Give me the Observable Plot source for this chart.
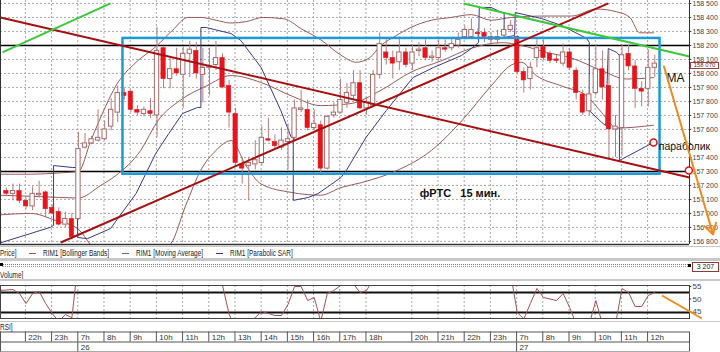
<!DOCTYPE html>
<html><head><meta charset="utf-8">
<script src="https://cdn.jsdelivr.net/npm/d3@7"></script>
<script src="https://cdn.jsdelivr.net/npm/@observablehq/plot@0.6"></script>
<style>
body{margin:0;background:#fff;width:720px;height:352px;overflow:hidden;position:relative;font-family:"Liberation Sans",Arial,sans-serif;color:#222}
.abs{position:absolute}
.lgi{position:absolute;top:0;font-size:8.5px;white-space:pre;line-height:10px;color:#222;transform:scaleX(0.76);transform-origin:left center}
.sw{position:absolute;top:5px;width:7px;height:0;border-top:1px solid #9a5a5a}
</style></head><body>
<div id="main" class="abs" style="left:0;top:0"></div>
<div class="abs" style="left:0;top:246px;width:720px;height:1px;background:#c8c8c8"></div>
<div class="abs" style="left:0;top:248px;width:720px;height:10px">
  <span class="lgi" style="left:0">Price]</span>
  <span class="sw" style="left:29px"></span><span class="lgi" style="left:43px">RIM1 [Bollinger Bands]</span>
  <span class="sw" style="left:122px"></span><span class="lgi" style="left:136px">RIM1 [Moving Average]</span>
  <span class="sw" style="left:216px;border-color:#3a3a8a"></span><span class="lgi" style="left:230px">RIM1 [Parabolic SAR]</span>
</div>
<div class="abs" style="left:0;top:258px;width:720px;height:3px;background:#c8c8c8"></div>
<div class="abs" style="left:2px;top:264px;width:688px;height:1px;border-top:1px dotted #777"></div>
<div class="abs" style="left:2px;top:266px;width:688px;height:1px;border-top:1px dotted #999"></div>
<div class="abs" style="left:0;top:263px;width:3px;height:3px;background:#000"></div>
<div class="abs" style="left:688px;top:264px;width:3px;height:3px;background:#000"></div>
<div class="abs" style="left:692px;top:262px;width:25px;height:8px;border:1px solid #8b3a3a;text-align:center;font-size:7px;line-height:8px;white-space:pre">3 207</div>
<div class="abs" style="left:0;top:270px;width:60px;height:10px"><span class="lgi" style="left:0">Volume]</span></div>
<div class="abs" style="left:0;top:279px;width:720px;height:2px;background:#c8c8c8"></div>
<div id="rsi" class="abs" style="left:0;top:283px"></div>
<div class="abs" style="left:0;top:321px;width:720px;height:1px;background:#c8c8c8"></div>
<div class="abs" style="left:0;top:322px;width:60px;height:10px"><span class="lgi" style="left:0">RSI]</span></div>
<div id="time" class="abs" style="left:0;top:331px"></div>
<div id="lastbox" class="abs" style="left:690px;width:27px;height:5px;border:1px solid #a04040;background:#fff;text-align:center;font-size:6px;line-height:5px;white-space:pre;color:#7a2a2a"></div>
<script>
// ---------- data ----------
const firstIndex = -3; // candle index of first candle
const open = [157160,157140,157160,157090,157050,157130,157150,157040,157010,156920,156960,156960,157470,157500,157520,157530,157620,157720,157860,157870,157740,157710,157730,157700,158180,157960,158030,157990,158140,158160,157990,158040,158060,158110,157910,157710,157350,157340,157350,157360,157530,157510,157470,157510,157540,157740,157740,157610,157630,157320,157700,157720,157790,157840,157930,157750,157770,157990,158150,158110,158080,158150,158070,158160,158180,158110,158110,158180,158180,158200,158260,158260,158290,158290,158240,158240,158270,158310,158260,158010,157960,158110,158190,158140,158100,158070,158150,158020,157850,157730,157860,158030,157910,157600,157610,158140,158050,157890,157890,158040];
const high = [157180,157210,157210,157110,157190,157230,157160,157060,157040,157010,157000,157580,157570,157550,157740,157660,157820,157910,157890,157880,157770,157760,157820,158330,158190,158110,158180,158190,158230,158220,158180,158180,158230,158140,157950,157750,157400,157400,157520,157620,157680,157560,157610,157640,157810,157880,157810,157740,157660,157700,157790,157960,157930,158020,158020,157830,158020,158290,158240,158160,158260,158180,158200,158220,158240,158160,158240,158240,158250,158290,158340,158390,158320,158320,158290,158310,158340,158380,158270,158040,158080,158240,158240,158160,158130,158210,158180,158040,157880,157980,158200,158160,158160,157700,158200,158200,158090,157940,158170,158130];
const low = [157120,157090,157070,157030,157020,157110,156970,156990,156910,156900,156810,156950,157460,157490,157510,157520,157590,157650,157810,157720,157700,157690,157680,157540,157890,157890,157980,157750,157970,157960,157790,157840,158020,157890,157610,157340,157210,157090,157310,157340,157510,157460,157450,157310,157520,157720,157590,157590,157290,157310,157680,157710,157750,157810,157740,157700,157760,157960,158060,157960,158020,158040,158020,158120,158090,158080,158090,158150,158160,158180,158240,158250,158240,158220,158210,158210,158250,158290,157990,157860,157880,158040,158090,158070,158070,158050,158020,157810,157700,157700,157840,157810,157390,157400,157410,158020,157750,157760,157760,157970];
const close = [157140,157160,157090,157050,157140,157140,157030,157000,156920,156960,156830,157460,157500,157530,157540,157600,157740,157860,157840,157740,157720,157740,157710,158160,157960,158030,158000,158140,158170,158000,158040,158050,158110,157900,157720,157360,157320,157360,157380,157540,157520,157480,157520,157530,157750,157750,157610,157640,157320,157690,157720,157810,157860,157930,157750,157790,157990,158210,158110,158070,158150,158060,158150,158170,158110,158120,158180,158170,158210,158240,158310,158310,158280,158260,158260,158260,158310,158340,158010,157950,158040,158180,158110,158090,158090,158150,158040,157860,157720,157850,158030,157900,157600,157620,158130,158050,157890,157870,158040,158070];

const bbUpperIdx = [-3.9,0.7,5.3,8.0,9.9,12.2,13.7,16.8,19.8,22.4,24.7,26.7,29.0,31.3,33.6,36.2,39.4,42.0,45.0,48.1,50.4,52.4,54.2,56.5,58.8,61.9,64.9,68.0,71.0,74.1,78.7,83.3,87.1,90.2,92.2,93.7,95.8];
const bbUpper = [157280,157280,157290,157300,157520,157770,157910,158080,158190,158310,158400,158400,158380,158360,158370,158400,158390,158320,158240,158130,158080,158110,158200,158270,158330,158380,158400,158420,158380,158400,158410,158410,158460,158440,158400,158290,158290];
const bbMiddleIdx = [-3.9,2.2,8.0,11.4,13.7,17.5,20.1,23.6,27.5,31.3,35.9,40.5,45.0,49.6,54.2,58.8,63.4,68.0,72.6,75.6,79.5,83.3,87.9,91.7,95.8];
const bbMiddle = [157130,157120,157110,157200,157270,157450,157660,157810,157910,157985,157935,157840,157770,157785,157880,158010,158090,158180,158220,158200,158150,158110,158020,157960,157970];
const bbLowerIdx = [-3.9,0.7,4.5,7.9,10.6,16.0,22.1,24.4,26.7,29.0,31.3,33.6,35.9,40.5,45.0,48.1,51.2,56.8,61.9,66.5,71.0,74.1,75.6,77.9,81.8,85.6,87.9,90.2,95.8];
const bbLower = [156990,157000,156950,156890,156735,156630,156785,157060,157310,157450,157520,157340,157210,157150,157130,157185,157220,157310,157450,157660,157910,158060,158080,157985,157910,157840,157720,157610,157630];

const sarIdx = [-3.9,3.7,4.2,4.2,7.1,7.7,7.9,9.4,12.9,16.8,19.8,21.8,23.9,26.2,26.7,26.7,27.5,31.3,32.8,35.9,38.9,40.5,40.8,40.8,43.1,44.6,48.1,48.9,51.9,55.0,59.1,62.2,66.5,68.0,69.1,69.2,71.0,73.0,73.0,74.6,74.7,78.7,81.8,85.6,86.0,86.0,87.9,88.5,88.9,90.2,90.6,90.6,95.8];
const sar = [156790,156900,156914,157342,157328,157328,156828,156820,156892,157142,157428,157571,157714,157757,157757,158328,158328,158285,158235,158042,157735,157542,157542,157093,157114,157142,157257,157307,157542,157735,157971,158042,158128,158178,158221,158471,158471,158428,158257,158271,158435,158392,158342,158250,158221,157735,157650,157628,158178,158150,158128,157378,157507];

const rsiIdx = [-4,-3,-2,-1,0,1,2,3,4,5,6,7,8,15,22,29,30,31,32,33,34,35,36,37,38,39,40,41,42,43,44,45,46,47,48,49,50,51,52,53,60,67,74,75,76,77,78,79,80,81,82,83,84,85,86,87,88,89,90,91,92,93,94,95,96];
const rsi = [53.4,53.6,53.8,52.2,48.2,52.2,53,48.2,44.2,41,43.8,42.5,66,70,68,62,55.4,44,38,37,40,42.6,45,44.2,43.4,43.4,47.8,55,55,49.4,50.6,41,52.2,53.4,55.4,58,56,52.6,53.4,58,66,68,60,44.6,42,48.2,54.2,50.6,50,49.4,52.2,46.6,40,38,40,49.4,40,37,40,54.2,52.6,47,47,51.4,52.6];

const priceTicks = d3.range(156800, 158501, 100);
const hiddenPriceLabels = [157500]; // covered by the "параболик" note in the original
const rsiTicks = [45, 50, 55];
const rsiLevels = [52.6, 44.6];
const hourLabels = ["22h","23h","7h","8h","9h","10h","11h","12h","13h","14h","15h","16h","17h","18h","20h","21h","22h","23h","7h","8h","9h","10h","11h","12h"];
const hourIndex = [0,4,8,12,16,20,24,28,32,36,40,44,48,52,59,63,67,71,75,79,83,87,91,95];
const dayLabels = ["26","27"];
const dayIndex = [8,75];

// drawn objects (trend lines etc.), in index/price units
const levelLines = [158200, 157300];
const rangeBox = {x1: 14.8, x2: 96.8, y1: 157280, y2: 158250};
const redLines = [{x1:-3.9,y1:158400,x2:101.3,y2:157257},{x1:5.3,y1:156792,x2:88.9,y2:158500}];
const greenLines = [{x1:-3.6,y1:158150,x2:12.9,y2:158500},{x1:66.8,y1:158500,x2:101.3,y2:158121}];
const orangeArrow = {x1:97.4,y1:158050,x2:104.9,y2:156850};
const markers = [{x:95.8,y:157507},{x:101.2,y:157307}];
const rsiOrange = {x1:97.1,y1:51.4,x2:103.2,y2:42.2};
const lastPrice = close[close.length-1];

// ---------- build ----------
const xDomain = [-3.9, 101.3];
const yDomain = [156778, 158521];
const fmtPrice = v => `${Math.floor(v/1000)} ${String(Math.round(v%1000)).padStart(3,"0")}`;
const candles = open.map((o,k)=>({i:firstIndex+k,o,h:high[k],l:low[k],c:close[k]}));
const upC = candles.filter(d=>d.c>=d.o), dnC = candles.filter(d=>d.c<d.o);
const pts = (xs, ys) => xs.map((x,k)=>({x, y:ys[k]}));
const grid = "#a8a8a8";
const font = "'Liberation Sans',Arial,sans-serif";
const hw = 0.33;

const main = Plot.plot({
  width: 720, height: 246, marginLeft: 0, marginRight: 31, marginTop: 0, marginBottom: 2,
  x: {domain: xDomain, axis: null},
  y: {domain: yDomain, axis: null},
  style: {background: "transparent", fontFamily: font, overflow: "visible"},
  marks: [
    Plot.ruleY(priceTicks, {stroke: grid, strokeDasharray: "2,2"}),
    Plot.ruleX(hourIndex, {x: d=>d-0.1, stroke: grid, strokeDasharray: "2,2"}),
    Plot.ruleY(levelLines, {stroke: "#000", strokeWidth: 1.5}),
    Plot.line(pts(bbUpperIdx, bbUpper), {x:"x", y:"y", stroke:"#9a5a5a", strokeWidth:1, curve:"monotone-x", clip:true}),
    Plot.line(pts(bbMiddleIdx, bbMiddle), {x:"x", y:"y", stroke:"#9a5a5a", strokeWidth:1, curve:"monotone-x", clip:true}),
    Plot.line(pts(bbLowerIdx, bbLower), {x:"x", y:"y", stroke:"#9a5a5a", strokeWidth:1, curve:"monotone-x", clip:true}),
    Plot.line(pts(sarIdx, sar), {x:"x", y:"y", stroke:"#3a3a8a", strokeWidth:1, clip:true}),
    Plot.ruleX(candles, {x:"i", y1:"l", y2:"h", stroke:"#b87c7c", strokeWidth:1}),
    Plot.rect(upC, {x1:d=>d.i-hw, x2:d=>d.i+hw, y1:"o", y2:"c", fill:"#fff", stroke:"#a86a6a", strokeWidth:1}),
    Plot.rect(dnC, {x1:d=>d.i-hw, x2:d=>d.i+hw, y1:"c", y2:"o", fill:"#e8141c", stroke:"#e8141c", strokeWidth:0.6}),
    Plot.rect([rangeBox], {x1:"x1", x2:"x2", y1:"y1", y2:"y2", fill:"none", stroke:"#1b9ad8", strokeWidth:2.5}),
    Plot.link(redLines, {x1:"x1", y1:"y1", x2:"x2", y2:"y2", stroke:"#a81010", strokeWidth:2}),
    Plot.link(greenLines, {x1:"x1", y1:"y1", x2:"x2", y2:"y2", stroke:"#3cc83c", strokeWidth:2}),
    Plot.ruleX([xDomain[0]], {stroke:"#333"}),
    Plot.ruleX([xDomain[1]], {stroke:"#333"}),
    Plot.ruleY([yDomain[0]], {stroke:"#333", strokeWidth:1.5}),
    Plot.ruleY(priceTicks, {x1: xDomain[1], x2: xDomain[1]+0.35, stroke:"#333"}),
    Plot.text(priceTicks.filter(v=>!hiddenPriceLabels.includes(v)), {x: xDomain[1], y: d=>d, text: fmtPrice, dx: 3, textAnchor:"start", fontSize: 7, fill:"#444"}),
    Plot.text(["MA"], {x: 97.8, y: 157964, text: d=>d, textAnchor:"start", fontSize: 12, fill:"#111"}),
    Plot.text(["параболик"], {x: 96.6, y: 157478, text: d=>d, textAnchor:"start", fontSize: 10.5, fill:"#111"}),
    Plot.text(["фРТС\u00a0\u00a0\u00a015 мин."], {x: 60.1, y: 157140, text: d=>d, textAnchor:"start", fontSize: 11, fontWeight:"bold", fill:"#111"}),
    Plot.arrow([orangeArrow], {x1:"x1", y1:"y1", x2:"x2", y2:"y2", stroke:"#f08a1c", strokeWidth:2, headLength:9, bend:0}),
    Plot.dot(markers, {x:"x", y:"y", r:3.5, stroke:"#e01010", strokeWidth:1.5, fill:"#fff"})
  ]
});
document.getElementById("main").appendChild(main);

// the last-price box sits between the two neighbouring tick labels
const ys = d3.scaleLinear(yDomain, [244, 0]);
const lb = document.getElementById("lastbox");
lb.textContent = fmtPrice(lastPrice);
const tickAbove = priceTicks.find(t => t > lastPrice), tickBelow = tickAbove - 100;
lb.style.top = ((ys(tickAbove) + ys(tickBelow)) / 2 - 3.5) + "px";

const rsiPlot = Plot.plot({
  width: 720, height: 37, marginLeft: 0, marginRight: 31, marginTop: 2, marginBottom: 2,
  x: {domain: xDomain, axis: null},
  y: {domain: [42.2, 55.4], axis: null},
  style: {background: "transparent", fontFamily: font, overflow: "visible"},
  marks: [
    Plot.ruleX(hourIndex, {x: d=>d-0.1, stroke: grid, strokeDasharray: "2,2"}),
    Plot.ruleY(rsiLevels, {stroke:"#111", strokeWidth:2}),
    Plot.line(pts(rsiIdx, rsi), {x:"x", y:"y", stroke:"#a0525a", strokeWidth:1, clip:true}),
    Plot.frame({stroke:"#444"}),
    Plot.ruleY(rsiTicks, {x1: xDomain[1], x2: xDomain[1]+0.35, stroke:"#333"}),
    Plot.text(rsiTicks, {x: xDomain[1], y: d=>d, text: d=>String(d), dx: 3, textAnchor:"start", fontSize: 8, fill:"#444"}),
    Plot.link([rsiOrange], {x1:"x1", y1:"y1", x2:"x2", y2:"y2", stroke:"#f08a1c", strokeWidth:2})
  ]
});
document.getElementById("rsi").appendChild(rsiPlot);

const timePlot = Plot.plot({
  width: 720, height: 21, marginLeft: 0, marginRight: 31, marginTop: 0, marginBottom: 0,
  x: {domain: xDomain, axis: null},
  y: {domain: [0, 2], range: [0.5, 20.5], axis: null},
  style: {background: "transparent", fontFamily: font, overflow: "visible"},
  marks: [
    Plot.ruleY([0, 1, 2], {stroke:"#555"}),
    Plot.ruleX(hourIndex, {x: d=>d-0.1, y1: 0, y2: 1, stroke:"#555"}),
    Plot.ruleX(dayIndex, {x: d=>d-0.1, y1: 1, y2: 2, stroke:"#555"}),
    Plot.ruleX(xDomain, {y1: 0, y2: 2, stroke:"#555"}),
    Plot.text(hourLabels, {x: (d,k)=>hourIndex[k]+0.35, y: 0.5, text: d=>d, textAnchor:"start", fontSize: 8, fill:"#333"}),
    Plot.text(dayLabels, {x: (d,k)=>dayIndex[k]+0.35, y: 1.5, text: d=>d, textAnchor:"start", fontSize: 8, fill:"#333"})
  ]
});
document.getElementById("time").appendChild(timePlot);
</script>
</body></html>
